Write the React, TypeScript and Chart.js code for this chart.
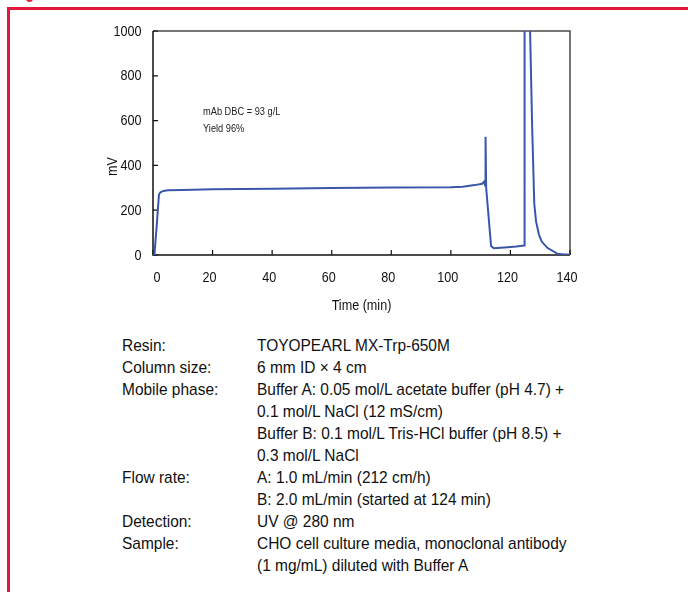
import React, { useEffect, useRef } from "react";
import { Chart, registerables } from "chart.js";

Chart.register(...registerables);

// ---- data ----
const timeMin = [
  0, 0.5, 1.3, 2.0, 2.5, 3.5, 5, 10, 20, 40, 60, 80, 100, 104, 108, 110.5,
  111.2, 111.5, 111.65, 111.85, 113.5, 114.4, 118, 122, 124.6, 124.75, 125.8,
  126.6, 127.3, 128.0, 128.6, 129.6, 130.5, 132.4, 135.7, 138, 140,
];
const signalMv = [
  0, 5, 140, 270, 280, 286, 289, 290, 293, 296, 299, 301, 302, 305, 312, 318,
  328, 310, 528, 300, 40, 30, 34, 38, 42, 1300, 1500,
  1000, 570, 230, 150, 90, 60, 32, 6, 2, 2,
];
const xTicks = [0, 20, 40, 60, 80, 100, 120, 140];
const yTicks = [0, 200, 400, 600, 800, 1000];
const annotationLines = ["mAb DBC = 93 g/L", "Yield 96%"];
const xTitle = "Time (min)";
const yTitle = "mV";

const conditionRows: [string, string][] = [
  ["Resin:", "TOYOPEARL MX-Trp-650M"],
  ["Column size:", "6 mm ID \u00d7 4 cm"],
  ["Mobile phase:", "Buffer A: 0.05 mol/L acetate buffer (pH 4.7) +"],
  ["", "0.1 mol/L NaCl (12 mS/cm)"],
  ["", "Buffer B: 0.1 mol/L Tris-HCl buffer (pH 8.5) +"],
  ["", "0.3 mol/L NaCl"],
  ["Flow rate:", "A: 1.0 mL/min (212 cm/h)"],
  ["", "B: 2.0 mL/min (started at 124 min)"],
  ["Detection:", "UV @ 280 nm"],
  ["Sample:", "CHO cell culture media, monoclonal antibody"],
  ["", "(1 mg/mL) diluted with Buffer A"],
];

const FONT = '"Liberation Sans", Arial, sans-serif';
const CANVAS_W = 688;
const CANVAS_H = 330;
const LINE_BLUE = "#3a56a8";
const RED = "#e3193b";
const SQUEEZE = 0.84;

function squeezedText(ctx: CanvasRenderingContext2D, text: string, x: number, y: number, align: "left" | "right" | "center") {
  ctx.save();
  ctx.translate(x, y);
  ctx.scale(SQUEEZE, 1);
  ctx.textAlign = align;
  ctx.fillText(text, 0, 0);
  ctx.restore();
}

const framePlugin = {
  id: "framePlugin",
  beforeDatasetsDraw(chart: any) {
    const { ctx, chartArea: a, scales } = chart;
    ctx.save();
    // top & right border
    ctx.strokeStyle = "#4a4a4a";
    ctx.lineWidth = 1.5;
    ctx.beginPath();
    ctx.moveTo(a.left, a.top);
    ctx.lineTo(a.right, a.top);
    ctx.lineTo(a.right, a.bottom);
    ctx.stroke();
    // left & bottom axes
    ctx.strokeStyle = "#111";
    ctx.lineWidth = 1.5;
    ctx.beginPath();
    ctx.moveTo(a.left, a.top);
    ctx.lineTo(a.left, a.bottom);
    ctx.lineTo(a.right, a.bottom);
    ctx.stroke();
    // inward ticks
    ctx.lineWidth = 1.2;
    ctx.beginPath();
    scales.x.ticks.forEach((t: any) => {
      const x = scales.x.getPixelForValue(t.value);
      ctx.moveTo(x, a.bottom);
      ctx.lineTo(x, a.bottom - 5);
    });
    scales.y.ticks.forEach((t: any) => {
      const y = scales.y.getPixelForValue(t.value);
      ctx.moveTo(a.left, y);
      ctx.lineTo(a.left + 5, y);
    });
    ctx.stroke();
    ctx.restore();
  },
  afterDraw(chart: any) {
    const { ctx, chartArea: a, scales } = chart;
    ctx.save();
    ctx.textBaseline = "middle";
    // tick labels
    ctx.fillStyle = "#111";
    ctx.font = `15px ${FONT}`;
    scales.x.ticks.forEach((t: any) => {
      let x = scales.x.getPixelForValue(t.value) - 3;
      if (t.value === 0) x = a.left + 4;
      squeezedText(ctx, String(t.value), x, a.bottom + 23, "center");
    });
    scales.y.ticks.forEach((t: any) => {
      const y = scales.y.getPixelForValue(t.value);
      squeezedText(ctx, String(t.value), a.left - 11.5, y + 0.5, "right");
    });
    // annotation
    ctx.fillStyle = "#222";
    ctx.font = `11px ${FONT}`;
    const ax = scales.x.getPixelForValue(16.8);
    const ay = scales.y.getPixelForValue(640);
    annotationLines.forEach((t, i) => squeezedText(ctx, t, ax, ay + i * 17, "left"));
    // axis titles
    ctx.fillStyle = "#111";
    ctx.font = `15px ${FONT}`;
    squeezedText(ctx, xTitle, (a.left + a.right) / 2, 306, "center");
    ctx.save();
    ctx.translate(112.5, scales.y.getPixelForValue(395));
    ctx.rotate(-Math.PI / 2);
    squeezedText(ctx, yTitle, 0, 0, "center");
    ctx.restore();
    ctx.restore();
  },
};

function ChromChart() {
  const ref = useRef<HTMLCanvasElement | null>(null);
  useEffect(() => {
    if (!ref.current) return;
    const chart = new Chart(ref.current, {
      type: "line",
      data: {
        datasets: [
          {
            data: timeMin.map((t, i) => ({ x: t, y: signalMv[i] })),
            borderColor: LINE_BLUE,
            borderWidth: 2,
            pointRadius: 0,
            tension: 0,
            fill: false,
          },
        ],
      },
      options: {
        animation: false,
        responsive: false,
        maintainAspectRatio: false,
        events: [],
        layout: { padding: { left: 0, top: 31, right: CANVAS_W - 570, bottom: 0 } },
        plugins: { legend: { display: false }, tooltip: { enabled: false } },
        scales: {
          x: {
            type: "linear",
            min: 0,
            max: 140,
            afterBuildTicks: (s: any) => {
              s.ticks = xTicks.map((v) => ({ value: v }));
            },
            ticks: { display: false, autoSkip: false },
            grid: { display: false, drawTicks: false },
            border: { display: false },
            afterFit: (s: any) => {
              s.height = CANVAS_H - 255;
            },
          },
          y: {
            type: "linear",
            min: 0,
            max: 1000,
            afterBuildTicks: (s: any) => {
              s.ticks = yTicks.map((v) => ({ value: v }));
            },
            ticks: { display: false, autoSkip: false },
            grid: { display: false, drawTicks: false },
            border: { display: false },
            afterFit: (s: any) => {
              s.width = 153;
            },
          },
        },
      },
      plugins: [framePlugin],
    } as any);
    return () => chart.destroy();
  }, []);
  return (
    <canvas
      ref={ref}
      width={CANVAS_W}
      height={CANVAS_H}
      style={{ position: "absolute", left: 0, top: 0, width: CANVAS_W, height: CANVAS_H }}
    />
  );
}

const spanStyle = (left: number): React.CSSProperties => ({
  position: "absolute",
  left,
  transform: "scaleX(0.91)",
  transformOrigin: "0 0",
});

export default function App() {
  return (
    <div
      style={{
        position: "absolute",
        left: 0,
        top: 0,
        width: 688,
        height: 592,
        overflow: "hidden",
        background: "#fff",
      }}
    >
      <div style={{ position: "absolute", left: 7, top: 7, width: 700, height: 2.6, background: RED }} />
      <div style={{ position: "absolute", left: 7, top: 7, width: 2.6, height: 600, background: RED }} />
      <div
        style={{
          position: "absolute",
          left: 25.5,
          top: -5.5,
          width: 7,
          height: 7,
          borderRadius: "50%",
          background: RED,
        }}
      />
      <ChromChart />
      <div
        style={{
          position: "absolute",
          left: 0,
          top: 334.5,
          width: 688,
          fontFamily: FONT,
          fontSize: 17,
          lineHeight: "22px",
          color: "#111",
        }}
      >
        {conditionRows.map(([label, value], i) => (
          <div key={i} style={{ position: "relative", height: 22, whiteSpace: "nowrap" }}>
            <span style={spanStyle(122)}>{label}</span>
            <span style={spanStyle(257)}>{value}</span>
          </div>
        ))}
      </div>
    </div>
  );
}
